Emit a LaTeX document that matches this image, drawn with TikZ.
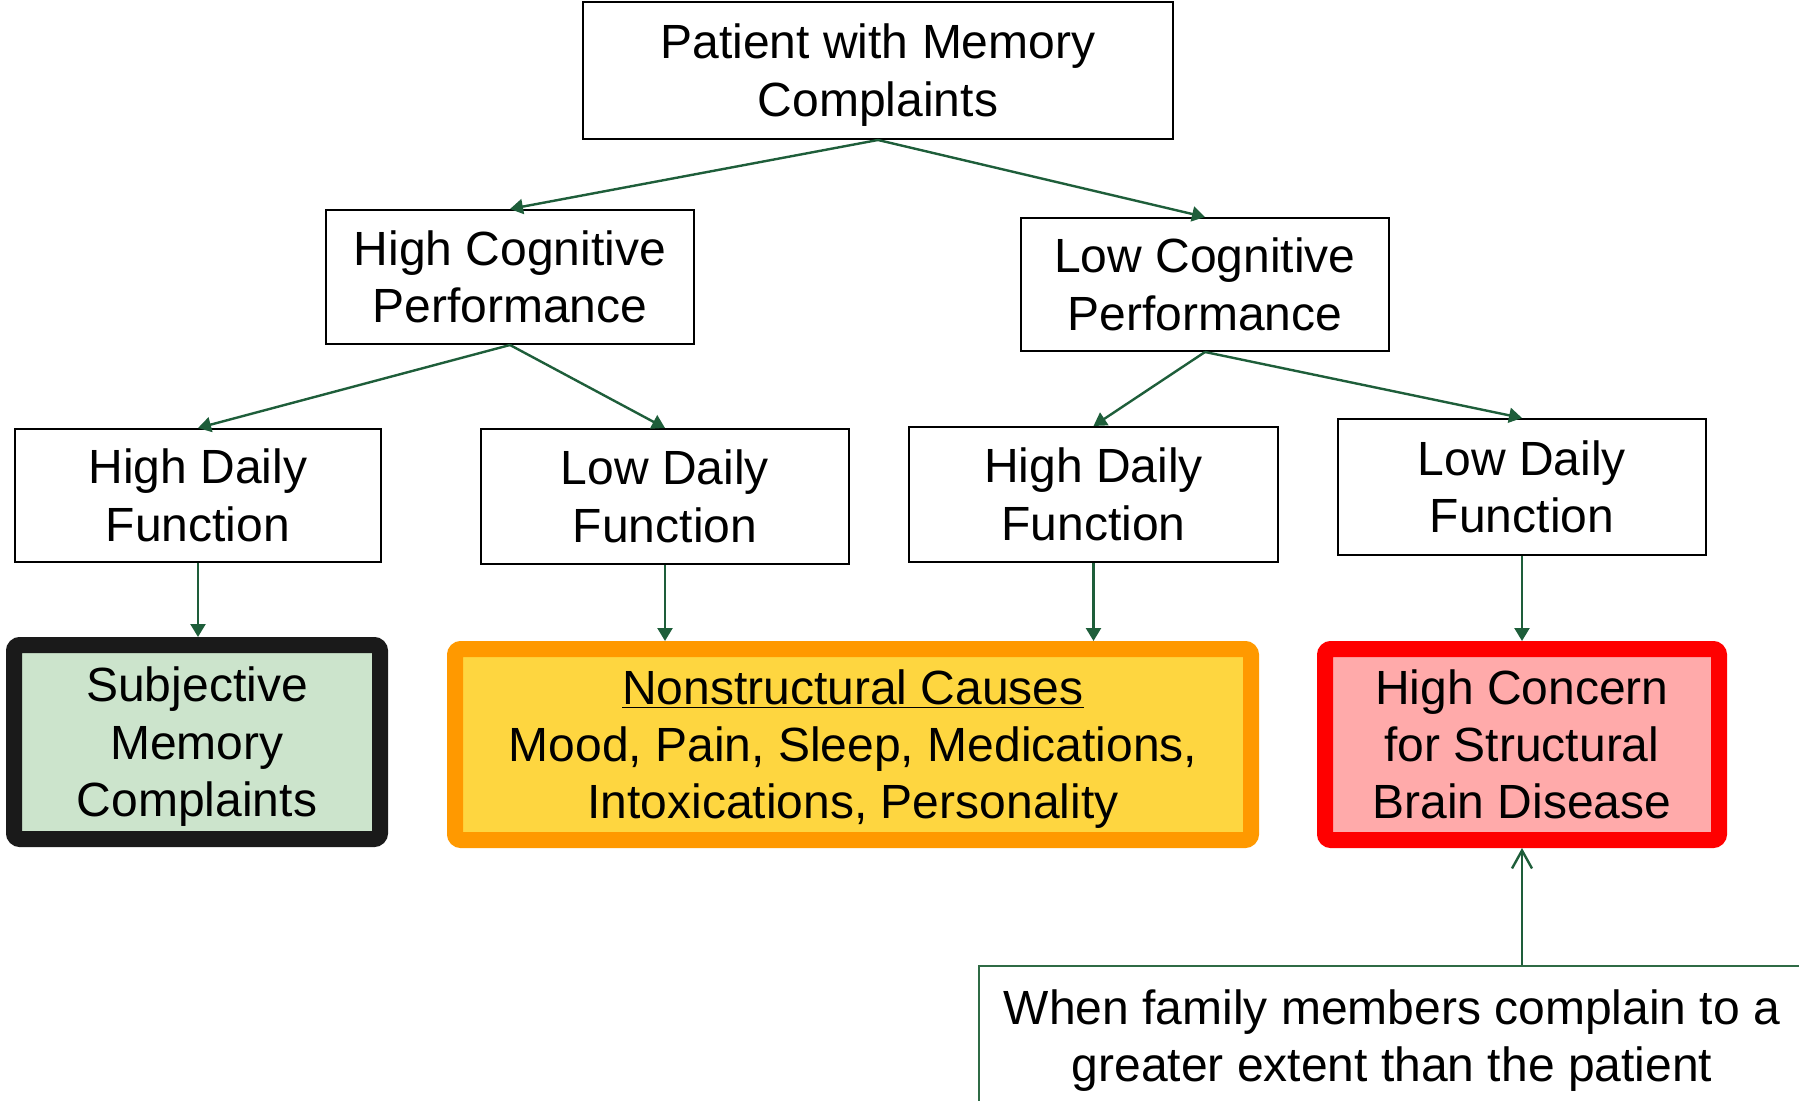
\documentclass[tikz,border=0pt]{standalone}
\usepackage{fontspec}
\setmainfont{Liberation Sans}
\usetikzlibrary{arrows.meta}
\definecolor{flowgreen}{RGB}{30,94,58}
\definecolor{famgreen}{RGB}{47,107,69}
\definecolor{smcfill}{RGB}{204,228,204}
\definecolor{smcdraw}{RGB}{26,26,26}
\definecolor{nscfill}{RGB}{254,214,64}
\definecolor{nscdraw}{RGB}{255,153,0}
\definecolor{hcsfill}{RGB}{255,170,170}
\definecolor{hcsdraw}{RGB}{255,0,0}
% same line box for every first and last line
\newcommand{\boxstrut}{\rule[-5.5pt]{0pt}{28pt}}
\tikzset{
	boxtext/.style={inner sep=0pt, align=center, font=\fontsize{24}{28.7}\selectfont},
	plainbox/.style={boxtext, draw=black, line width=1pt},
	endbox/.style={boxtext, line width=8pt, rounded corners=3pt},
	flow/.style={draw=flowgreen, line width=1.2pt, -{Triangle[width=7.5pt,length=6.5pt]}},
	famflow/.style={draw=flowgreen, line width=1.2pt, -{Straight Barb[width=10pt,length=9pt]}}
}

\begin{document}
\begin{tikzpicture}[x=0.5pt,y=-0.5pt]
		%%%%% START %%%%%
		\useasboundingbox (0,0) rectangle (1799,1101);
		\clip (0,0) rectangle (1799,1101);
		
		\node[plainbox, minimum width=295pt, minimum height=68.5pt] (top) at (878, 70.5) {\boxstrut Patient with Memory\\Complaints\boxstrut};
		
		\node[plainbox, minimum width=184pt, minimum height=67pt] (hcp) at (510, 277) {\boxstrut High Cognitive\\Performance\boxstrut};
		\node[plainbox, minimum width=184pt, minimum height=66.5pt] (lcp) at (1205, 284.5) {\boxstrut Low Cognitive\\Performance\boxstrut};
		
		\node[plainbox, minimum width=183pt, minimum height=66.5pt] (hdfa) at (198, 495.5) {\boxstrut High Daily\\Function\boxstrut};
		\node[plainbox, minimum width=184pt, minimum height=67.5pt] (ldfa) at (665, 496.5) {\boxstrut Low Daily\\Function\boxstrut};
		\node[plainbox, minimum width=184.5pt, minimum height=67.5pt] (hdfb) at (1093.5, 494.5) {\boxstrut High Daily\\Function\boxstrut};
		\node[plainbox, minimum width=184pt, minimum height=68pt] (ldfb) at (1522, 487) {\boxstrut Low Daily\\Function\boxstrut};
		
		\node[endbox, draw=smcdraw, fill=smcfill, minimum width=183pt, minimum height=97pt] (smc) at (197, 742) {\boxstrut Subjective\\Memory\\Complaints\boxstrut};
		\node[endbox, draw=nscdraw, fill=nscfill, minimum width=398pt, minimum height=95.5pt] (nsc) at (853, 744.5) {\boxstrut\underline{Nonstructural Causes}\\Mood, Pain, Sleep, Medications,\\Intoxications, Personality\boxstrut};
		\node[endbox, draw=hcsdraw, fill=hcsfill, minimum width=197pt, minimum height=95.5pt] (hcs) at (1522, 744.5) {\boxstrut High Concern\\for Structural\\Brain Disease\boxstrut};
		
		\node[plainbox, draw=famgreen, minimum width=413pt, minimum height=70pt] (fam) at (1392, 1036) {\boxstrut When family members complain to a\\greater extent than the patient\boxstrut};
		
		\draw[flow] (top.south) -- (hcp.north);
		\draw[flow] (top.south) -- (lcp.north);
		\draw[flow] (hcp.south) -- (hdfa.north);
		\draw[flow] (hcp.south) -- (ldfa.north);
		\draw[flow] (lcp.south) -- (hdfb.north);
		\draw[flow] (lcp.south) -- (ldfb.north);
		
		\draw[flow] (hdfa.south) -- (hdfa.south |- smc.north);
		\draw[flow] (ldfa.south) -- (ldfa.south |- nsc.north);
		\draw[flow] (hdfb.south) -- (hdfb.south |- nsc.north);
		\draw[flow] (ldfb.south) -- (ldfb.south |- hcs.north);
		
		\draw[famflow] (hcs.south |- fam.north) -- (hcs.south);
		%%%%% END %%%%%
	\end{tikzpicture}
\end{document}
